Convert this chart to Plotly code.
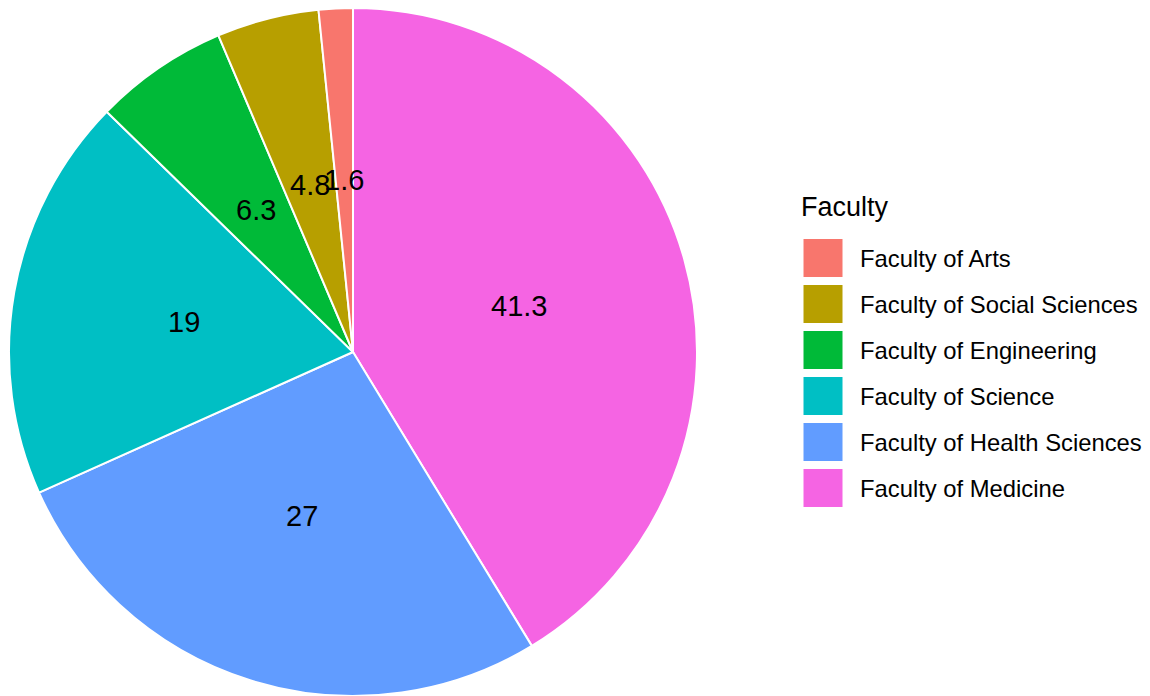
import math
import plotly.graph_objects as go

# ---- data ----
faculties = ["Faculty of Arts", "Faculty of Social Sciences", "Faculty of Engineering",
             "Faculty of Science", "Faculty of Health Sciences", "Faculty of Medicine"]
percentages = [1.6, 4.8, 6.3, 19, 27, 41.3]
colors = ["#F8766D", "#B79F00", "#00BA38", "#00BFC4", "#619CFF", "#F564E3"]
legend_title = "Faculty"

W, H = 1150, 696
OFF = 8  # page body margin
FONT = "Liberation Sans, Arial, Helvetica, sans-serif"

# pie geometry (page pixels)
cx, cy_top, R = 353 - OFF, 352 - OFF, 344
dom_x = [(cx - R) / W, (cx + R) / W]
dom_y = [(H - cy_top - R) / H, (H - cy_top + R) / H]
dom_y = [max(0.0, dom_y[0]), min(1.0, dom_y[1])]

# slices go counter-clockwise from 12 o'clock in legend order,
# i.e. clockwise from 12 o'clock in reverse order
fig = go.Figure(go.Pie(
    labels=faculties[::-1],
    values=percentages[::-1],
    sort=False,
    direction="clockwise",
    rotation=0,
    marker=dict(colors=colors[::-1], line=dict(color="white", width=2)),
    textinfo="none",
    hoverinfo="label+value",
    domain=dict(x=dom_x, y=dom_y),
    showlegend=False,
))

annotations = []
shapes = []

# slice labels at half radius, mid-angle
total = sum(percentages)
cum = 0.0
for v in percentages:
    mid = (cum + v / 2) / total * 2 * math.pi
    cum += v
    r = 0.5 * R
    x_px = cx - r * math.sin(mid)
    y_px_top = cy_top - r * math.cos(mid)
    annotations.append(dict(
        x=x_px / W, y=(H - y_px_top) / H, xref="paper", yref="paper",
        text=f"{v:g}", showarrow=False, xanchor="center", yanchor="middle",
        font=dict(family=FONT, size=29, color="black")))

# manual legend
key_x0, key_w, key_h = 803 - OFF, 40, 39
row0, row_gap = 258 - OFF, 46
annotations.append(dict(
    x=(799 - OFF) / W, y=(H - (207 - OFF)) / H, xref="paper", yref="paper",
    text=legend_title, showarrow=False, xanchor="left", yanchor="middle",
    font=dict(family=FONT, size=27, color="black")))
for i, (name, col) in enumerate(zip(faculties, colors)):
    yc = row0 + i * row_gap
    shapes.append(dict(
        type="rect", xref="paper", yref="paper",
        x0=key_x0 / W, x1=(key_x0 + key_w) / W,
        y0=(H - (yc + key_h / 2)) / H, y1=(H - (yc - key_h / 2)) / H,
        fillcolor=col, line=dict(color="white", width=1)))
    annotations.append(dict(
        x=(858 - OFF) / W, y=(H - yc) / H, xref="paper", yref="paper",
        text=name, showarrow=False, xanchor="left", yanchor="middle",
        font=dict(family=FONT, size=23.8, color="black")))

fig.update_layout(
    width=W, height=H,
    margin=dict(l=0, r=0, t=0, b=0),
    paper_bgcolor="white", plot_bgcolor="white",
    annotations=annotations, shapes=shapes,
    showlegend=False,
)

fig.write_html("out.html")
